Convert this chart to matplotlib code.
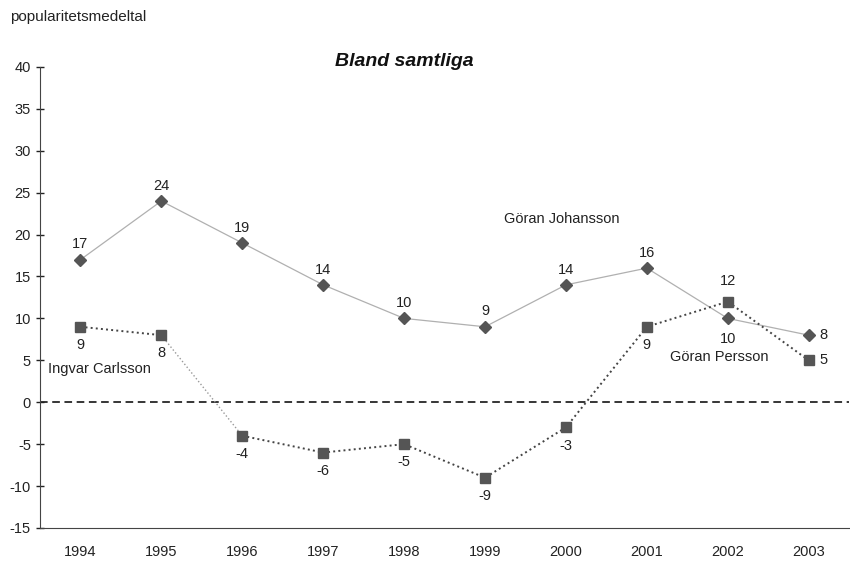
import matplotlib.pyplot as plt

plt.rcParams['font.family'] = ['Liberation Sans', 'DejaVu Sans']
plt.rcParams['axes.unicode_minus'] = False

years = ['1994', '1995', '1996', '1997', '1998', '1999', '2000', '2001', '2002', '2003']
johansson = [17, 24, 19, 14, 10, 9, 14, 16, 10, 8]
persson = [9, 8, -4, -6, -5, -9, -3, 9, 12, 5]

x = list(range(len(years)))

fig = plt.figure(figsize=(8.5, 5.62), dpi=100)
ax = fig.add_axes([0.047, 0.0605, 0.952, 0.8205])

# zero line
ax.axhline(0, color='black', linestyle=(0, (5, 3)), linewidth=1.1, zorder=1)

# Johansson
ax.plot(x, johansson, color='#b0b0b0', linewidth=0.9, zorder=2)
ax.plot(x, johansson, linestyle='none', marker='D', markersize=6, color='#555555', zorder=4)

# Carlsson / Persson
ax.plot(x[0:2], persson[0:2], color='#444444', linestyle=':', linewidth=1.4, zorder=2)
ax.plot(x[1:3], persson[1:3], color='#999999', linestyle=':', linewidth=1.0, zorder=2)
ax.plot(x[2:], persson[2:], color='#444444', linestyle=':', linewidth=1.4, zorder=2)
ax.plot(x, persson, linestyle='none', marker='s', markersize=7.5, color='#555555', zorder=4)

fs = 10.5
for i, v in enumerate(johansson):
    if i == 8:
        ax.annotate(str(v), (i, v), xytext=(0, -10), textcoords='offset points',
                    ha='center', va='top', fontsize=fs, color='#222222')
    elif i == 9:
        ax.annotate(str(v), (i, v), xytext=(8, 0), textcoords='offset points',
                    ha='left', va='center', fontsize=fs, color='#222222')
    else:
        ax.annotate(str(v), (i, v), xytext=(0, 6), textcoords='offset points',
                    ha='center', va='bottom', fontsize=fs, color='#222222')

for i, v in enumerate(persson):
    if i == 8:
        ax.annotate(str(v), (i, v), xytext=(0, 10), textcoords='offset points',
                    ha='center', va='bottom', fontsize=fs, color='#222222')
    elif i == 9:
        ax.annotate(str(v), (i, v), xytext=(8, 0), textcoords='offset points',
                    ha='left', va='center', fontsize=fs, color='#222222')
    else:
        ax.annotate(str(v), (i, v), xytext=(0, -8), textcoords='offset points',
                    ha='center', va='top', fontsize=fs, color='#222222')

ax.text(5.95, 21.9, 'Göran Johansson', ha='center', va='center', fontsize=fs, color='#222222')
ax.text(0.24, 4.0, 'Ingvar Carlsson', ha='center', va='center', fontsize=fs, color='#222222')
ax.text(7.9, 5.4, 'Göran Persson', ha='center', va='center', fontsize=fs, color='#222222')

ax.set_xlim(-0.5, len(years) - 0.5)
ax.set_ylim(-15, 40)
ax.set_yticks(range(-15, 41, 5))
ax.set_xticks(x)
ax.set_xticklabels(years)
ax.tick_params(axis='x', length=0, pad=12, labelsize=fs, colors='#222222')
ax.tick_params(axis='y', direction='inout', length=6, width=1, labelsize=fs, colors='#222222')
ax.spines['top'].set_visible(False)
ax.spines['right'].set_visible(False)
ax.spines['left'].set_color('#444444')
ax.spines['bottom'].set_color('#444444')

fig.text(404 / 850, 1 - 61 / 562, 'Bland samtliga', ha='center', va='center',
         fontsize=14, fontweight='bold', fontstyle='italic', color='#111111')
fig.text(10 / 850, 1 - 17 / 562, 'popularitetsmedeltal', ha='left', va='center',
         fontsize=11, color='#222222')

fig.savefig('out.png', dpi=100)
